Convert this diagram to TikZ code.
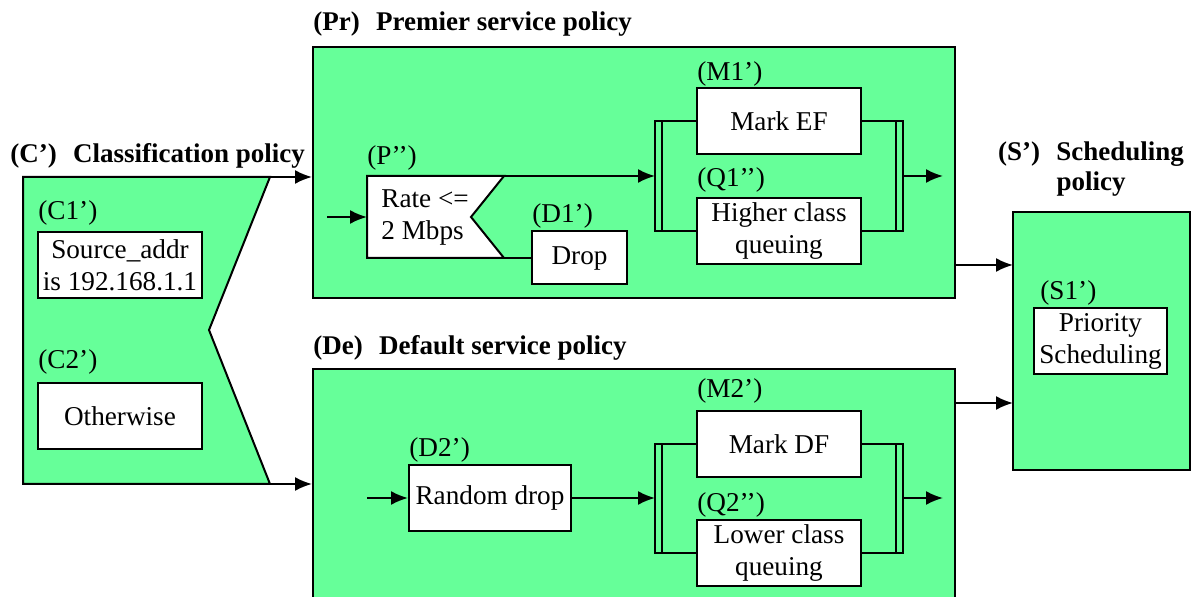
\documentclass[tikz,border=0pt]{standalone}
\usepackage{fontspec}
\setmainfont{Liberation Serif}
\usetikzlibrary{arrows.meta}
\definecolor{polgreen}{RGB}{102,255,153}

\tikzset{
  policy/.style={draw, fill=polgreen, line width=1pt, inner sep=0pt},
  act/.style={draw, fill=white, line width=1pt, align=center, inner sep=0pt},
  tag/.style={anchor=base west, inner sep=0pt},
  title/.style={inner sep=0pt, font=\fontsize{13.5}{15}\selectfont\bfseries},
  flow/.style={line width=1pt, -{Latex[length=8.5pt,width=7pt]}},
  wire/.style={line width=1pt}
}

\begin{document}
\begin{tikzpicture}[x=0.5pt, y=-0.5pt, font=\fontsize{13.6}{16}\selectfont]
    \clip (0,0) rectangle (1194,597);
    \fill[white] (0,0) rectangle (1194,597);

    % policy boxes
    \node[policy, minimum width=321pt, minimum height=125.5pt] (pr) at (634,172.5) {};
    \node[policy, minimum width=321pt, minimum height=125.5pt] (de) at (634,494.5) {};
    \node[policy, minimum width=88.5pt, minimum height=129pt] (sc) at (1101.5,341) {};

    \node[title, anchor=base west] (prt) at (313,31) {(Pr)\hspace{0.6em}Premier service policy};
    \node[title, anchor=base west] (det) at (313,355) {(De)\hspace{0.6em}Default service policy};
    \node[title, anchor=base west] (ct) at (10,163) {(C’)\hspace{0.6em}Classification policy};
    \node[title, anchor=north, align=center] (st) at (1091,141) {(S’)\hspace{0.6em}Scheduling\\policy};

    % classification
    \coordinate (ctop) at (270,177);
    \coordinate (cbot) at (270,484);
    \draw[policy] (23,177) -- (ctop) -- (209,330) -- (cbot) -- (23,484) -- cycle;
    \node[act, minimum width=82pt, minimum height=33pt] (c1) at (120,265) {Source\_addr\\is 192.168.1.1};
    \node[act, minimum width=82pt, minimum height=33pt] (c2) at (120,416) {Otherwise};
    \node[tag] (c1l) at (38,220) {(C1’)};
    \node[tag] (c2l) at (38,369) {(C2’)};
    \draw[flow] (ctop) -- (ctop -| pr.west);
    \draw[flow] (cbot) -- (cbot -| de.west);

    % premier service
    \coordinate (pnw) at (367,176);
    \coordinate (pne) at (504,176);
    \coordinate (pse) at (504,258);
    \coordinate (psw) at (367,258);
    \coordinate (pin) at (327,217);
    \draw[act] (pnw) -- (pne) -- (471,217) -- (pse) -- (psw) -- cycle;
    \node[anchor=west, align=left, inner sep=0pt] (p) at (381,217) {Rate <=\\2 Mbps};
    \node[tag] (pl) at (367,165) {(P’’)};
    \draw[flow] (pin) -- (pin -| pnw);

    \node[act, minimum width=47.5pt, minimum height=26.5pt] (d1) at (579.5,258) {Drop};
    \node[tag] (d1l) at (532,223) {(D1’)};
    \draw[wire] (pse) -- (d1.west);

    \node[act, minimum width=82pt, minimum height=33pt] (m1) at (779,121) {Mark EF};
    \node[act, minimum width=82pt, minimum height=33pt] (q1) at (779,231) {Higher class\\queuing};
    \node[tag] (m1l) at (697,81) {(M1’)};
    \node[tag] (q1l) at (697,187) {(Q1’’)};

    \coordinate (j1l) at (655,176);
    \coordinate (j1li) at (662,176);
    \coordinate (j1ri) at (896,176);
    \coordinate (j1r) at (903,176);
    \coordinate (o1) at (943,176);
    \draw[flow] (pne) -- (j1l);
    \draw[wire] (m1.west) -| (j1l |- q1.west) -- (q1.west);
    \draw[wire] (j1li |- m1.west) -- (j1li |- q1.west);
    \draw[wire] (m1.east) -| (j1r |- q1.east) -- (q1.east);
    \draw[wire] (j1ri |- m1.east) -- (j1ri |- q1.east);
    \draw[flow] (j1r) -- (o1);

    % default service
    \coordinate (din) at (367,498);
    \node[act, minimum width=81pt, minimum height=33pt] (d2) at (490,498) {Random drop};
    \node[tag] (d2l) at (409,457) {(D2’)};
    \draw[flow] (din) -- (d2.west);

    \node[act, minimum width=82pt, minimum height=33pt] (m2) at (779,444) {Mark DF};
    \node[act, minimum width=82pt, minimum height=33pt] (q2) at (779,553) {Lower class\\queuing};
    \node[tag] (m2l) at (697,398) {(M2’)};
    \node[tag] (q2l) at (697,512) {(Q2’’)};

    \coordinate (j2l) at (655,498);
    \coordinate (j2li) at (662,498);
    \coordinate (j2ri) at (896,498);
    \coordinate (j2r) at (903,498);
    \coordinate (o2) at (943,498);
    \draw[flow] (d2.east) -- (j2l);
    \draw[wire] (m2.west) -| (j2l |- q2.west) -- (q2.west);
    \draw[wire] (j2li |- m2.west) -- (j2li |- q2.west);
    \draw[wire] (m2.east) -| (j2r |- q2.east) -- (q2.east);
    \draw[wire] (j2ri |- m2.east) -- (j2ri |- q2.east);
    \draw[flow] (j2r) -- (o2);

    % scheduling
    \coordinate (s1in) at (1013,265);
    \coordinate (s2in) at (1013,403);
    \draw[flow] (s1in -| pr.east) -- (s1in);
    \draw[flow] (s2in -| de.east) -- (s2in);
    \node[act, minimum width=66.5pt, minimum height=33pt] (s1) at (1100.5,341) {Priority\\Scheduling};
    \node[tag] (s1l) at (1040,300) {(S1’)};
\end{tikzpicture}
\end{document}
